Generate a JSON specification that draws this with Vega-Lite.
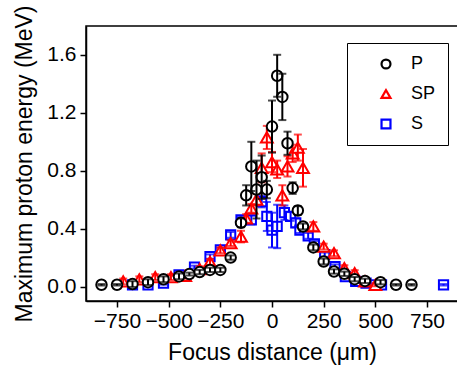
{
  "$schema": "https://vega.github.io/schema/vega-lite/v6.json",
  "width": 372,
  "height": 275,
  "autosize": {"type": "none"},
  "padding": {"left": 86, "top": 26, "right": 0, "bottom": 71},
  "background": "white",
  "config": {
    "view": {"stroke": "black", "strokeWidth": 1.5},
    "font": "Liberation Sans",
    "axis": {
      "labelFont": "Liberation Sans",
      "titleFont": "Liberation Sans",
      "labelFontSize": 21,
      "titleFontSize": 23,
      "titleFontWeight": "normal",
      "labelColor": "black",
      "titleColor": "black",
      "domainColor": "black",
      "tickColor": "black",
      "domainWidth": 1.5,
      "tickWidth": 1.5,
      "tickSize": 6,
      "grid": false
    }
  },
  "datasets": {
    "pts": [
      {"s": "S", "x": -675, "y": 0.012, "e": 0.01},
      {"s": "S", "x": -600, "y": 0.012, "e": 0.01},
      {"s": "S", "x": -525, "y": 0.023, "e": 0.01},
      {"s": "S", "x": -450, "y": 0.08, "e": 0.01},
      {"s": "S", "x": -375, "y": 0.134, "e": 0.01},
      {"s": "S", "x": -300, "y": 0.207, "e": 0.015},
      {"s": "S", "x": -250, "y": 0.254, "e": 0.015},
      {"s": "S", "x": -200, "y": 0.357, "e": 0.02},
      {"s": "S", "x": -150, "y": 0.46, "e": 0.02},
      {"s": "S", "x": -100, "y": 0.46, "e": 0.03},
      {"s": "S", "x": -50, "y": 0.587, "e": 0.04},
      {"s": "S", "x": -25, "y": 0.484, "e": 0.1},
      {"s": "S", "x": 0, "y": 0.39, "e": 0.12},
      {"s": "S", "x": 25, "y": 0.415, "e": 0.15},
      {"s": "S", "x": 60, "y": 0.51, "e": 0.05},
      {"s": "S", "x": 90, "y": 0.484, "e": 0.03},
      {"s": "S", "x": 115, "y": 0.44, "e": 0.03},
      {"s": "S", "x": 135, "y": 0.39, "e": 0.02},
      {"s": "S", "x": 175, "y": 0.35, "e": 0.02},
      {"s": "S", "x": 205, "y": 0.295, "e": 0.02},
      {"s": "S", "x": 255, "y": 0.22, "e": 0.015},
      {"s": "S", "x": 305, "y": 0.138, "e": 0.015},
      {"s": "S", "x": 355, "y": 0.069, "e": 0.01},
      {"s": "S", "x": 405, "y": 0.035, "e": 0.01},
      {"s": "S", "x": 455, "y": 0.023, "e": 0.01},
      {"s": "S", "x": 500, "y": 0.012, "e": 0.01},
      {"s": "S", "x": 530, "y": 0.012, "e": 0.01},
      {"s": "S", "x": 830, "y": 0.012, "e": 0.005},
      {"s": "SP", "x": -720, "y": 0.035, "e": 0.02},
      {"s": "SP", "x": -642, "y": 0.05, "e": 0.02},
      {"s": "SP", "x": -565, "y": 0.065, "e": 0.02},
      {"s": "SP", "x": -489, "y": 0.065, "e": 0.02},
      {"s": "SP", "x": -420, "y": 0.074, "e": 0.02},
      {"s": "SP", "x": -350, "y": 0.12, "e": 0.02},
      {"s": "SP", "x": -300, "y": 0.17, "e": 0.02},
      {"s": "SP", "x": -250, "y": 0.25, "e": 0.02},
      {"s": "SP", "x": -200, "y": 0.3, "e": 0.02},
      {"s": "SP", "x": -150, "y": 0.345, "e": 0.04},
      {"s": "SP", "x": -125, "y": 0.47, "e": 0.03},
      {"s": "SP", "x": -100, "y": 0.54, "e": 0.03},
      {"s": "SP", "x": -75, "y": 0.6, "e": 0.04},
      {"s": "SP", "x": -50, "y": 0.82, "e": 0.1},
      {"s": "SP", "x": -25, "y": 1.03, "e": 0.08},
      {"s": "SP", "x": 0, "y": 0.86, "e": 0.07},
      {"s": "SP", "x": 25, "y": 0.81, "e": 0.06},
      {"s": "SP", "x": 50, "y": 0.63, "e": 0.07},
      {"s": "SP", "x": 75, "y": 0.83, "e": 0.07},
      {"s": "SP", "x": 100, "y": 0.92, "e": 0.06},
      {"s": "SP", "x": 125, "y": 0.96, "e": 0.09},
      {"s": "SP", "x": 150, "y": 0.82, "e": 0.13},
      {"s": "SP", "x": 200, "y": 0.415, "e": 0.03},
      {"s": "SP", "x": 250, "y": 0.276, "e": 0.02},
      {"s": "SP", "x": 300, "y": 0.23, "e": 0.02},
      {"s": "SP", "x": 350, "y": 0.127, "e": 0.02},
      {"s": "SP", "x": 400, "y": 0.093, "e": 0.02},
      {"s": "SP", "x": 450, "y": 0.035, "e": 0.02},
      {"s": "SP", "x": 500, "y": 0.012, "e": 0.01},
      {"s": "P", "x": -825, "y": 0.012, "e": 0.005},
      {"s": "P", "x": -750, "y": 0.012, "e": 0.005},
      {"s": "P", "x": -675, "y": 0.017, "e": 0.02},
      {"s": "P", "x": -600, "y": 0.03, "e": 0.02},
      {"s": "P", "x": -525, "y": 0.05, "e": 0.02},
      {"s": "P", "x": -450, "y": 0.07, "e": 0.02},
      {"s": "P", "x": -400, "y": 0.086, "e": 0.01},
      {"s": "P", "x": -350, "y": 0.1, "e": 0.015},
      {"s": "P", "x": -300, "y": 0.115, "e": 0.015},
      {"s": "P", "x": -250, "y": 0.115, "e": 0.015},
      {"s": "P", "x": -200, "y": 0.2, "e": 0.015},
      {"s": "P", "x": -150, "y": 0.44, "e": 0.03},
      {"s": "P", "x": -125, "y": 0.63, "e": 0.07},
      {"s": "P", "x": -100, "y": 0.83, "e": 0.17},
      {"s": "P", "x": -75, "y": 0.67, "e": 0.2},
      {"s": "P", "x": -50, "y": 0.755, "e": 0.15},
      {"s": "P", "x": -25, "y": 0.67, "e": 0.06},
      {"s": "P", "x": 0, "y": 1.105, "e": 0.18},
      {"s": "P", "x": 25, "y": 1.456, "e": 0.145},
      {"s": "P", "x": 50, "y": 1.31, "e": 0.16},
      {"s": "P", "x": 75, "y": 0.99, "e": 0.08},
      {"s": "P", "x": 100, "y": 0.68, "e": 0.04},
      {"s": "P", "x": 125, "y": 0.525, "e": 0.03},
      {"s": "P", "x": 150, "y": 0.415, "e": 0.02},
      {"s": "P", "x": 200, "y": 0.27, "e": 0.02},
      {"s": "P", "x": 250, "y": 0.173, "e": 0.02},
      {"s": "P", "x": 300, "y": 0.104, "e": 0.015},
      {"s": "P", "x": 350, "y": 0.088, "e": 0.015},
      {"s": "P", "x": 400, "y": 0.051, "e": 0.015},
      {"s": "P", "x": 450, "y": 0.039, "e": 0.015},
      {"s": "P", "x": 525, "y": 0.03, "e": 0.015},
      {"s": "P", "x": 600, "y": 0.012, "e": 0.005},
      {"s": "P", "x": 675, "y": 0.012, "e": 0.005}
    ]
  },
  "data": {"name": "pts"},
  "encoding": {
    "x": {
      "field": "x", "type": "quantitative",
      "scale": {"domain": [-900, 900], "nice": false, "zero": false},
      "axis": {"values": [-750, -500, -250, 0, 250, 500, 750], "title": "Focus distance (μm)", "labelPadding": 3, "titlePadding": 10}
    },
    "y": {
      "field": "y", "type": "quantitative",
      "scale": {"domain": [-0.1, 1.8], "nice": false, "zero": false},
      "axis": {"values": [0, 0.4, 0.8, 1.2, 1.6], "format": ".1f", "title": "Maximum proton energy (MeV)", "labelPadding": 4, "titlePadding": 10}
    }
  },
  "layer": [
    {
      "transform": [{"filter": "datum.s === 'S'"}],
      "mark": {"type": "point", "fill": "white", "filled": false, "strokeWidth": 2, "size": 85, "opacity": 1},
      "encoding": {
        "stroke": {"field": "s", "type": "nominal", "scale": {"domain": ["P", "SP", "S"], "range": ["black", "#ff0000", "#0000ff"]},
          "legend": {"title": null, "orient": "none", "legendX": 261, "legendY": 17, "strokeColor": "black", "fillColor": "white", "padding": 12, "symbolOffset": 18, "labelOffset": 16, "rowPadding": 12, "labelFontSize": 18, "labelFont": "Liberation Sans", "labelColor": "black", "symbolSize": 80, "symbolStrokeWidth": 2.2, "symbolFillColor": "white"}},
        "shape": {"field": "s", "type": "nominal", "scale": {"domain": ["P", "SP", "S"], "range": ["circle", "triangle-up", "square"]}}
      }
    },
    {
      "transform": [{"filter": "datum.s === 'S'"}],
      "mark": {"type": "errorbar", "color": "#0000ff", "thickness": 2, "ticks": {"size": 8, "thickness": 2}},
      "encoding": {"yError": {"field": "e"}}
    },
    {
      "transform": [{"filter": "datum.s === 'SP'"}],
      "mark": {"type": "point", "fill": "white", "filled": false, "strokeWidth": 2, "size": 140, "opacity": 1},
      "encoding": {
        "stroke": {"field": "s", "type": "nominal"},
        "shape": {"field": "s", "type": "nominal"}
      }
    },
    {
      "transform": [{"filter": "datum.s === 'SP'"}],
      "mark": {"type": "errorbar", "color": "#ff0000", "thickness": 2, "ticks": {"size": 8, "thickness": 2}},
      "encoding": {"yError": {"field": "e"}}
    },
    {
      "transform": [{"filter": "datum.s === 'P'"}],
      "mark": {"type": "point", "fill": "white", "filled": false, "strokeWidth": 2, "size": 110, "opacity": 1},
      "encoding": {
        "stroke": {"field": "s", "type": "nominal"},
        "shape": {"field": "s", "type": "nominal"}
      }
    },
    {
      "transform": [{"filter": "datum.s === 'P'"}],
      "mark": {"type": "errorbar", "color": "black", "thickness": 2, "ticks": {"size": 8, "thickness": 2}},
      "encoding": {"yError": {"field": "e"}}
    }
  ]
}
